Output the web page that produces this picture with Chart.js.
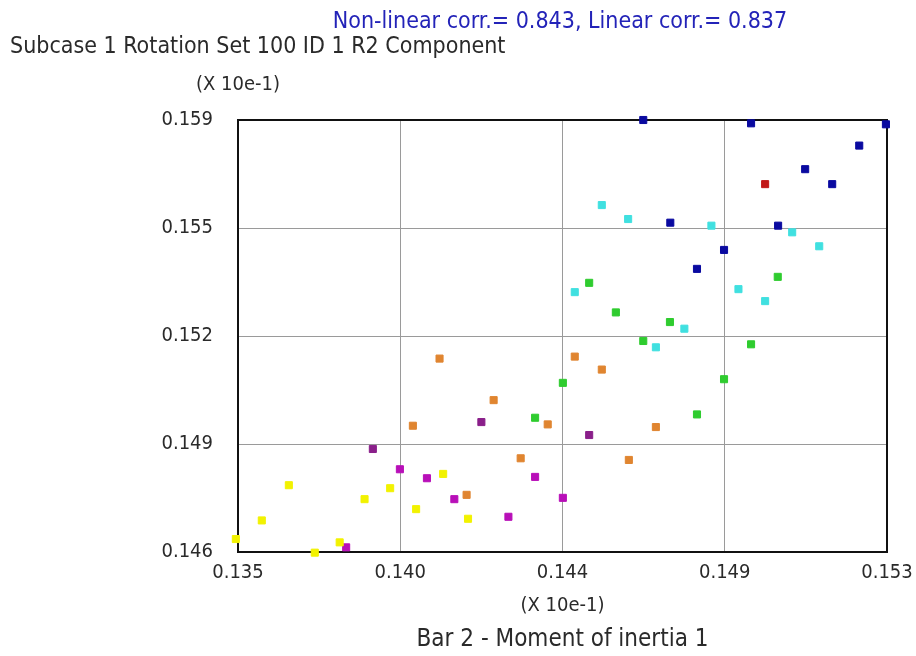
<!DOCTYPE html>
<html>
<head>
<meta charset="utf-8">
<script src="https://cdn.jsdelivr.net/npm/chart.js@4"></script>
<style>
  html, body { margin: 0; padding: 0; background: #fff; }
  #wrap { width: 916px; height: 656px; }
</style>
</head>
<body>
<div id="wrap"><canvas id="myChart" width="916" height="656"></canvas></div>
<script>
// axis ticks (values shown as the original rounded labels)
const xTicks = [0.135, 0.1395, 0.144, 0.1485, 0.153];
const xTickLabels = ['0.135', '0.140', '0.144', '0.149', '0.153'];
const yTicks = [0.146, 0.14925, 0.1525, 0.15575, 0.159];
const yTickLabels = ['0.146', '0.149', '0.152', '0.155', '0.159'];

// points grouped by marker colour, [x, y]
const navyPts = [[0.14624, 0.15900], [0.14923, 0.15890], [0.15297, 0.15887], [0.15223, 0.15823],
  [0.15073, 0.15752], [0.15148, 0.15707], [0.14699, 0.15591], [0.14998, 0.15582],
  [0.14848, 0.15509], [0.14773, 0.15452]];
const redPts = [[0.14962, 0.15707]];
const cyanPts = [[0.14509, 0.15644], [0.14582, 0.15602], [0.14813, 0.15582], [0.15037, 0.15562],
  [0.15112, 0.15520], [0.14434, 0.15382], [0.14888, 0.15391], [0.14962, 0.15355],
  [0.14738, 0.15272], [0.14659, 0.15216]];
const greenPts = [[0.14997, 0.15428], [0.14474, 0.15410], [0.14548, 0.15321], [0.14698, 0.15292],
  [0.14624, 0.15235], [0.14923, 0.15225], [0.14401, 0.15109], [0.14848, 0.15120],
  [0.14773, 0.15014], [0.14324, 0.15004]];
const orangePts = [[0.14434, 0.15188], [0.14509, 0.15149], [0.14659, 0.14976], [0.14584, 0.14877],
  [0.14059, 0.15182], [0.14209, 0.15057], [0.14359, 0.14984], [0.13985, 0.14980],
  [0.14284, 0.14882], [0.14134, 0.14772]];
const purplePts = [[0.14474, 0.14952], [0.14175, 0.14991], [0.13874, 0.14910]];
const magentaPts = [[0.14401, 0.14763], [0.13949, 0.14849], [0.14024, 0.14822], [0.14324, 0.14826],
  [0.14100, 0.14759], [0.14250, 0.14706], [0.13800, 0.14614]];
const yellowPts = [[0.13641, 0.14801], [0.14069, 0.14835], [0.13922, 0.14792], [0.13851, 0.14759],
  [0.13994, 0.14729], [0.13566, 0.14695], [0.14138, 0.14700], [0.13494, 0.14639],
  [0.13782, 0.14629], [0.13713, 0.14598]];

const FONT = '"DejaVu Sans Condensed", "DejaVu Sans", sans-serif';

function pts(arr) { return arr.map(p => ({ x: p[0], y: p[1] })); }
function set(arr, color) {
  return {
    data: pts(arr),
    backgroundColor: color,
    borderColor: color,
    borderWidth: 1,
    pointStyle: 'rect',
    pointRadius: 5,
    pointHoverRadius: 5,
    clip: false
  };
}

// frame + loose texts
const extras = {
  id: 'extras',
  beforeDatasetsDraw(chart) {
    const { ctx, chartArea: a } = chart;
    ctx.save();
    ctx.strokeStyle = '#111';
    ctx.lineWidth = 2;
    ctx.strokeRect(a.left, a.top, a.right - a.left, a.bottom - a.top);
    ctx.restore();
  },
  afterDraw(chart) {
    const { ctx, chartArea: a } = chart;
    const cx = (a.left + a.right) / 2;
    ctx.save();
    ctx.textBaseline = 'middle';
    ctx.fillStyle = '#2323b8';
    ctx.font = '23px ' + FONT;
    ctx.textAlign = 'center';
    ctx.fillText('Non-linear corr.= 0.843, Linear corr.= 0.837', 560, 22);
    ctx.fillStyle = '#2a2a2a';
    ctx.textAlign = 'left';
    ctx.font = '23px ' + FONT;
    ctx.fillText('Subcase 1 Rotation Set 100 ID 1 R2 Component', 10, 47);
    ctx.font = '20px ' + FONT;
    ctx.fillText('(X 10e-1)', 196, 85);
    ctx.textAlign = 'center';
    ctx.fillText('(X 10e-1)', cx, 606);
    ctx.font = '24px ' + FONT;
    ctx.fillText('Bar 2 - Moment of inertia 1', cx, 640);
    ctx.restore();
  }
};

new Chart(document.getElementById('myChart').getContext('2d'), {
  type: 'scatter',
  data: {
    datasets: [
      set(yellowPts, '#f2f200'),
      set(magentaPts, '#b80fb8'),
      set(purplePts, '#8a1f8a'),
      set(orangePts, '#e08530'),
      set(greenPts, '#2fcc2f'),
      set(cyanPts, '#40e0e0'),
      set(navyPts, '#0a0aa0'),
      set(redPts, '#c21818')
    ]
  },
  options: {
    responsive: false,
    animation: false,
    layout: { padding: { top: 120, right: 29, left: 0, bottom: 0 } },
    plugins: {
      legend: { display: false },
      tooltip: { enabled: false }
    },
    scales: {
      x: {
        type: 'linear',
        min: 0.135,
        max: 0.153,
        afterBuildTicks(scale) { scale.ticks = xTicks.map(v => ({ value: v })); },
        afterFit(scale) { scale.height = 104; scale.paddingLeft = 0; scale.paddingRight = 0; },
        ticks: {
          padding: 9,
          color: '#2a2a2a',
          font: { family: FONT, size: 20 },
          maxRotation: 0,
          autoSkip: false,
          callback: (v, i) => xTickLabels[i]
        },
        grid: { color: '#9a9a9a', lineWidth: 1, drawTicks: false },
        border: { display: false }
      },
      y: {
        type: 'linear',
        min: 0.146,
        max: 0.159,
        afterBuildTicks(scale) { scale.ticks = yTicks.map(v => ({ value: v })); },
        afterFit(scale) { scale.width = 238; scale.paddingTop = 0; scale.paddingBottom = 0; },
        ticks: {
          padding: 25,
          color: '#2a2a2a',
          font: { family: FONT, size: 20 },
          autoSkip: false,
          callback: (v, i) => yTickLabels[i]
        },
        grid: { color: '#9a9a9a', lineWidth: 1, drawTicks: false },
        border: { display: false }
      }
    }
  },
  plugins: [extras]
});
</script>
</body>
</html>
